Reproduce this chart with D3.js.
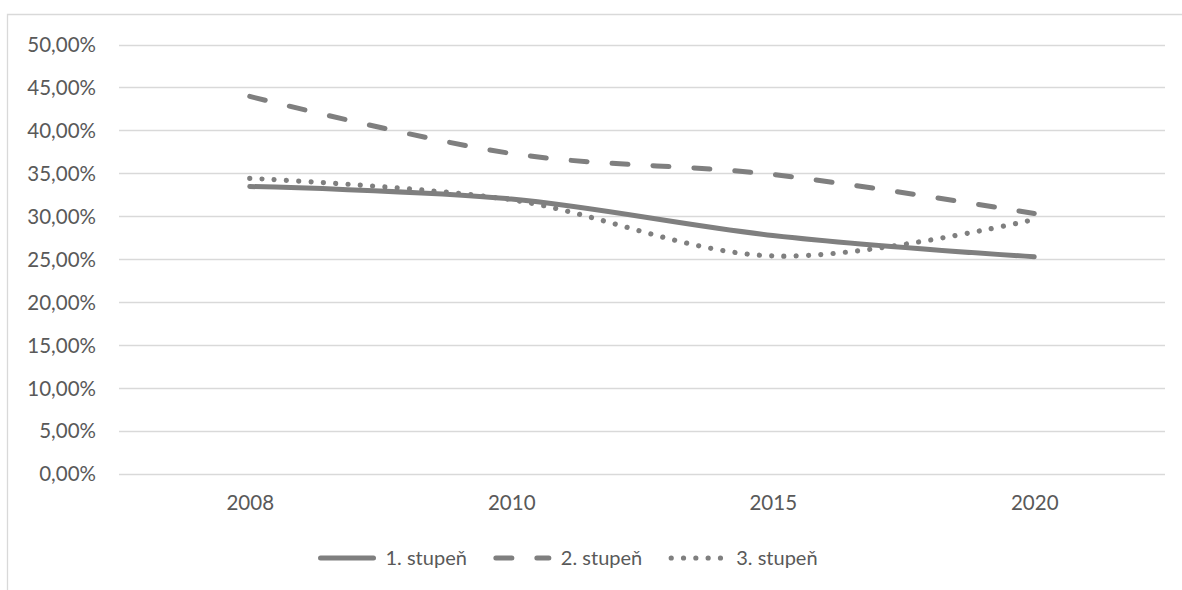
<!DOCTYPE html>
<html>
<head>
<meta charset="utf-8">
<script src="https://cdn.jsdelivr.net/npm/d3@7"></script>
<style>
  html, body { margin: 0; padding: 0; background: #fff; }
  svg { display: block; }
  text { font-family: Lato, "Open Sans", sans-serif; fill: #595959; }
</style>
</head>
<body>
<svg id="chart" width="1182" height="590"></svg>
<script>
// Years on the category axis
const years = ["2008", "2010", "2015", "2020"];
// Share per level (percent)
const level1 = [33.45, 32.0, 27.75, 25.25];
const level2 = [43.95, 37.3, 34.85, 30.3];
const level3 = [34.4, 31.9, 25.35, 29.6];
const seriesNames = ["1. stupeň", "2. stupeň", "3. stupeň"];
// Value-axis ticks (percent)
const yTicks = [0, 5, 10, 15, 20, 25, 30, 35, 40, 45, 50];

const W = 1182, H = 590;
const svg = d3.select("#chart");
const lineColor = "#7f7f7f";
const gridColor = "#d9d9d9";
const axisFont = 20.5;
const legendFont = 20;

// Line styles per series
const styles = [
  { width: 5, dash: null },
  { width: 5, dash: "16,25" },
  { width: 5.2, dash: "0.01,12.3" }
];

const series = [level1, level2, level3].map((vals, i) => ({
  name: seriesNames[i],
  values: vals.map((v, j) => ({ year: years[j], value: v })),
  style: styles[i]
}));

// Chart frame
svg.append("path")
  .attr("d", `M7.5,${H + 2}V14.5H${W + 2}`)
  .attr("fill", "none")
  .attr("stroke", gridColor)
  .attr("stroke-width", 1.3);

const plot = { left: 119, right: 1165, top: 44.5, bottom: 473.5 };

const x = d3.scalePoint()
  .domain(years)
  .range([plot.left, plot.right])
  .padding(0.5);

const y = d3.scaleLinear()
  .domain([0, 50])
  .range([plot.bottom, plot.top]);

// Horizontal gridlines
svg.append("g")
  .selectAll("line")
  .data(yTicks)
  .join("line")
  .attr("x1", plot.left)
  .attr("x2", plot.right)
  .attr("y1", d => Math.round(y(d)) + 0.5)
  .attr("y2", d => Math.round(y(d)) + 0.5)
  .attr("stroke", gridColor)
  .attr("stroke-width", 1.3);

// Value axis labels
const fmt = d => d.toFixed(2).replace(".", ",") + "%";
const yAxis = d3.axisLeft(y).tickValues(yTicks).tickFormat(fmt).tickSize(0).tickPadding(0);
const gy = svg.append("g")
  .attr("transform", `translate(96,0)`)
  .call(yAxis);
gy.select(".domain").remove();
gy.selectAll("text")
  .attr("font-size", axisFont)
  .attr("font-family", "Lato, sans-serif")
  .attr("fill", "#595959")
  .attr("dy", "0.36em");

// Category axis labels
const xAxis = d3.axisBottom(x).tickSize(0).tickPadding(0);
const gx = svg.append("g")
  .attr("transform", `translate(0,${plot.bottom})`)
  .call(xAxis);
gx.select(".domain").remove();
gx.selectAll("text")
  .attr("font-size", axisFont)
  .attr("font-family", "Lato, sans-serif")
  .attr("fill", "#595959")
  .attr("y", 0)
  .attr("dy", "1.8em");

// Smoothed series lines
const line = d3.line()
  .x(d => x(d.year))
  .y(d => y(d.value))
  .curve(d3.curveCatmullRom.alpha(0));

svg.append("g")
  .selectAll("path")
  .data(series)
  .join("path")
  .attr("d", d => line(d.values))
  .attr("fill", "none")
  .attr("stroke", lineColor)
  .attr("stroke-width", d => d.style.width)
  .attr("stroke-linecap", "round")
  .attr("stroke-linejoin", "round")
  .attr("stroke-dasharray", d => d.style.dash);

// Legend
const legend = svg.append("g");
const legendY = 558;
let cursor = 320.5;
series.forEach(s => {
  const item = legend.append("g");
  item.append("line")
    .attr("x1", cursor)
    .attr("x2", cursor + 53)
    .attr("y1", legendY)
    .attr("y2", legendY)
    .attr("stroke", lineColor)
    .attr("stroke-width", s.style.width)
    .attr("stroke-linecap", "round")
    .attr("stroke-dasharray", s.style.dash);
  const t = item.append("text")
    .attr("x", cursor + 65)
    .attr("y", legendY)
    .attr("dy", "0.36em")
    .attr("font-size", legendFont)
    .text(s.name);
  cursor += 65 + t.node().getComputedTextLength() + 29;
});
</script>
</body>
</html>
